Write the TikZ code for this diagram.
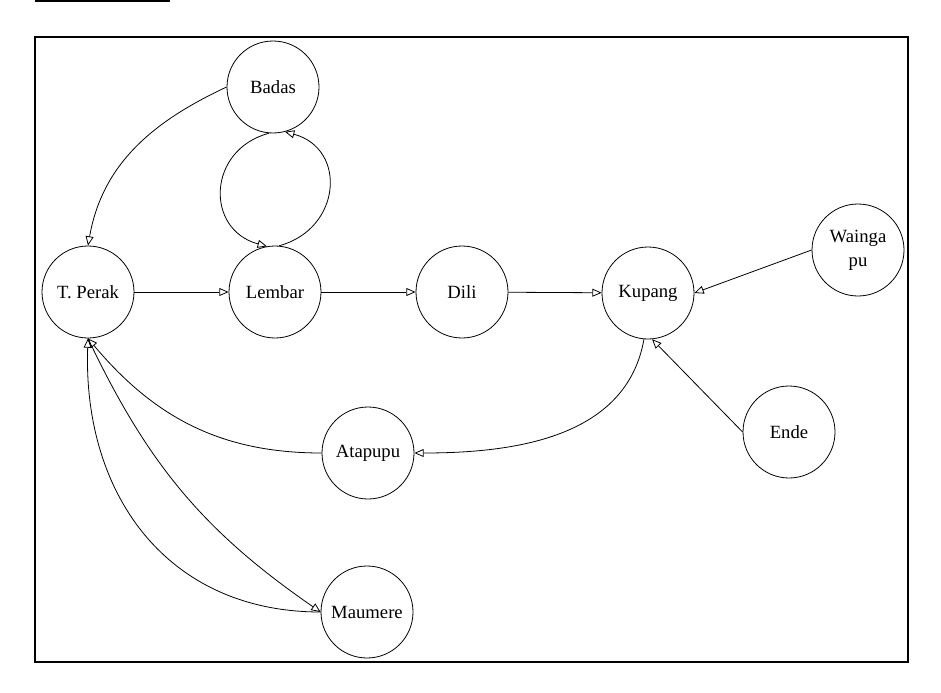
\documentclass[tikz,border=0pt]{standalone}
\usepackage{fontspec}
\setmainfont{Liberation Serif}
\usetikzlibrary{arrows.meta}
\tikzset{>={Triangle[open,length=7pt,width=6pt]}}

\begin{document}
\begin{tikzpicture}[x=.75pt,y=.75pt]
      \tikzstyle{town}=[draw,circle,minimum size=69pt,inner sep=1pt,align=center,font=\fontsize{14}{18}\selectfont,line width=.6pt];
      \tikzstyle{route}=[->,line width=.6pt];
      \useasboundingbox (0,0) rectangle (941,-692);
      \draw[line width=1.5pt](35,-1)--(170,-1);
      \draw[line width=.8pt](35,-37) rectangle (908,-662);

      \node[town](badas) at (273,-87){Badas};
      \node[town](tperak) at (88,-292){T. Perak};
      \node[town](lembar) at (275,-292){Lembar};
      \node[town](dili) at (462,-292){Dili};
      \node[town](kupang) at (648,-293){Kupang};
      \node[town](waingapu) at (858,-250){Wainga\\pu};
      \node[town](ende) at (789,-432){Ende};
      \node[town](atapupu) at (368,-453){Atapupu};
      \node[town](maumere) at (367,-612){Maumere};

      \draw[route](badas.west) to[out=205,in=80] (tperak.north);
      \draw[route](badas.-95) to[out=195,in=165,looseness=1.45] (lembar.100);
      \draw[route](lembar.85) to[out=15,in=-15,looseness=1.45] (badas.-75);
      \draw[route](tperak)--(lembar);
      \draw[route](lembar)--(dili);
      \draw[route](dili)--(kupang);
      \draw[route](waingapu.west)--(kupang.east);
      \draw[route](ende.west)--(kupang.-85);
      \draw[route](kupang.-95) to[out=-100,in=0] (atapupu.east);
      \draw[route](atapupu.west) to[out=180,in=-50] (tperak.south);
      \draw[route](tperak.south) to[bend right=15] (maumere.west);
      \draw[route](maumere.west) to[out=180,in=-92,looseness=1.1] (tperak.south);
    \end{tikzpicture}
\end{document}
